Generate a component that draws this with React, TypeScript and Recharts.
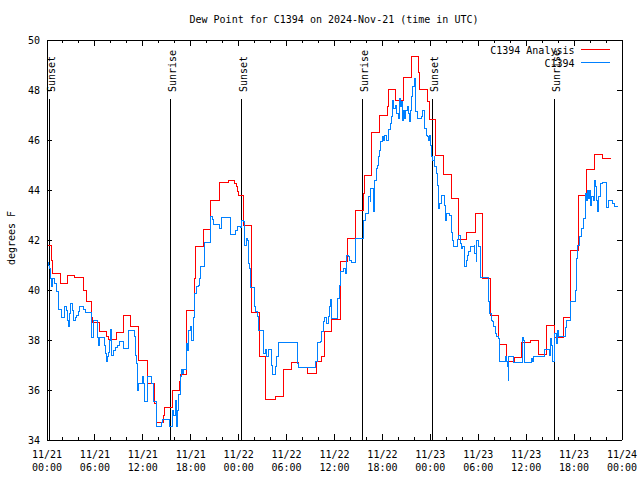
import React from 'react';
import { LineChart, Line, XAxis, YAxis, ReferenceLine, Legend, Customized } from 'recharts';

const FONT = '"DejaVu Sans Mono", "Liberation Mono", monospace';

const chartTitle = 'Dew Point for C1394 on 2024-Nov-21 (time in UTC)';
const yAxisTitle = 'degrees F';
const analysisName = 'C1394 Analysis';
const obsName = 'C1394';
const seriesOrder = [analysisName, obsName];

// hours since 11/21 00:00 UTC
const xTickHours = [0, 2, 4, 6, 8, 10, 12, 14, 16, 18, 20, 22, 24, 26, 28, 30, 32, 34, 36, 38, 40, 42, 44, 46, 48, 50, 52, 54, 56, 58, 60, 62, 64, 66, 68, 70, 72];
const xLabelHours = [0, 6, 12, 18, 24, 30, 36, 42, 48, 54, 60, 66, 72];
const xLabelDates = ['11/21', '11/21', '11/21', '11/21', '11/22', '11/22', '11/22', '11/22', '11/23', '11/23', '11/23', '11/23', '11/24'];
const xLabelTimes = ['00:00', '06:00', '12:00', '18:00', '00:00', '06:00', '12:00', '18:00', '00:00', '06:00', '12:00', '18:00', '00:00'];
const yTicks = [34, 36, 38, 40, 42, 44, 46, 48, 50];

const sunTimes = [0.29, 15.47, 24.35, 39.5, 48.25, 63.53];
const sunLabels = ['Sunset', 'Sunrise', 'Sunset', 'Sunrise', 'Sunset', 'Sunrise'];
const sunLineBottom = 34;
const sunLineTop = 47.64;

// C1394 Analysis (step values)
const analysisHours = [0, 0.6, 0.65, 1.7, 2.6, 3.5, 4.55, 4.97, 5.6, 5.7, 6.6, 7.5, 7.65, 8.7, 9.55, 10.5, 11.4, 12.56, 13.5, 13.7, 14.56, 14.7, 15.7, 16.65, 16.75, 17.5, 18.5, 18.6, 19.57, 20.5, 21.66, 22.7, 23.5, 23.7, 23.9, 24.0, 24.6, 25.6, 26.6, 27.3, 27.4, 28.55, 29.6, 30.6, 31.55, 32.6, 33.7, 34.4, 34.7, 35.65, 36.7, 37.6, 38.6, 39.6, 39.7, 40.66, 41.6, 42.6, 42.8, 43.6, 44.6, 45.6, 46.5, 46.6, 47.7, 47.85, 48.7, 49.7, 50.6, 51.5, 52.55, 53.6, 54.55, 55.5, 56.5, 56.7, 57.56, 58.5, 59.4, 60.5, 61.5, 62.5, 63.6, 64.65, 65.5, 65.6, 66.5, 66.6, 67.6, 68.6, 69.6, 70.6];
const analysisValues = [41.8, 41.2, 40.67, 40.27, 40.6, 40.5, 40.0, 39.56, 38.9, 38.7, 38.33, 38.13, 38.04, 38.3, 38.97, 38.56, 37.2, 36.27, 35.47, 34.7, 35.0, 35.3, 36.0, 36.33, 36.64, 39.2, 40.47, 41.76, 42.43, 43.57, 44.3, 44.38, 44.27, 44.13, 43.93, 43.8, 42.57, 39.1, 37.36, 36.07, 35.64, 35.73, 36.83, 37.1, 36.9, 36.67, 37.13, 37.33, 38.33, 38.83, 41.16, 42.07, 43.2, 43.87, 44.57, 46.31, 46.99, 47.33, 48.03, 47.6, 48.49, 49.36, 48.71, 48.04, 47.53, 46.83, 45.4, 44.63, 43.67, 42.03, 42.3, 43.07, 40.45, 39.0, 38.07, 37.83, 37.13, 37.31, 37.91, 38.0, 37.44, 38.57, 38.11, 38.89, 40.24, 41.57, 42.69, 43.8, 44.83, 45.43, 45.27, 45.27];

// C1394 observations
const obsHours = [0, 0.08, 0.17, 0.29, 0.5, 0.58, 0.71, 1.0, 1.21, 1.42, 1.84, 2.13, 2.25, 2.38, 2.55, 2.67, 2.8, 2.96, 3.21, 3.3, 3.51, 3.72, 3.92, 4.13, 4.55, 4.76, 5.59, 5.8, 6.3, 6.43, 6.55, 7.14, 7.35, 7.47, 7.56, 7.68, 7.81, 7.97, 8.1, 8.31, 8.52, 8.81, 9.06, 9.64, 10.19, 10.94, 11.1, 11.23, 11.31, 11.44, 11.94, 12.06, 12.19, 12.56, 13.11, 13.32, 13.65, 13.73, 14.36, 14.48, 15.32, 15.74, 15.82, 16.03, 16.24, 16.32, 16.45, 16.74, 16.86, 16.99, 17.15, 17.41, 17.57, 17.7, 17.91, 18.11, 18.32, 18.53, 18.66, 18.95, 19.08, 19.24, 19.7, 20.45, 20.53, 20.74, 20.91, 21.66, 21.87, 22.95, 23.6, 23.8, 24.17, 24.38, 24.59, 24.67, 24.79, 24.92, 25.09, 25.2, 25.4, 25.5, 25.92, 26.17, 26.34, 26.5, 27.17, 27.3, 27.5, 27.72, 28.14, 28.26, 28.6, 28.76, 28.93, 31.39, 31.55, 33.6, 33.85, 34.19, 34.39, 34.6, 34.8, 35.02, 35.23, 35.35, 35.48, 35.6, 36.35, 36.6, 36.8, 37.11, 37.32, 37.52, 37.73, 37.94, 38.15, 38.65, 39.69, 39.82, 40.24, 40.45, 40.57, 40.86, 40.95, 41.07, 41.2, 41.36, 41.49, 41.61, 41.82, 41.99, 42.11, 42.24, 42.53, 42.74, 42.95, 43.16, 43.28, 43.45, 43.58, 43.79, 44.0, 44.12, 44.29, 44.41, 44.54, 44.62, 44.75, 44.95, 45.12, 45.25, 45.37, 45.54, 45.66, 45.79, 45.96, 46.08, 46.2, 46.37, 46.91, 47.04, 47.21, 47.33, 47.46, 47.63, 47.75, 47.88, 48.04, 48.17, 48.29, 48.46, 48.58, 48.71, 48.88, 48.96, 49.04, 49.21, 49.34, 49.76, 49.92, 50.05, 50.46, 50.59, 50.76, 50.96, 51.38, 51.51, 51.72, 51.93, 52.05, 52.22, 52.34, 52.47, 52.63, 52.76, 52.97, 53.47, 53.59, 53.72, 53.8, 54.01, 54.3, 55.26, 55.47, 55.68, 55.81, 55.97, 56.18, 56.31, 56.52, 56.72, 57.35, 57.56, 57.64, 57.77, 57.85, 58.39, 59.52, 59.65, 59.73, 59.85, 60.69, 60.82, 60.98, 62.28, 62.9, 63.07, 63.19, 63.32, 63.61, 63.74, 63.9, 64.03, 64.95, 65.07, 65.49, 65.57, 66.12, 66.24, 66.33, 66.45, 66.74, 66.95, 67.16, 67.37, 67.49, 67.58, 67.66, 67.79, 67.91, 68.08, 68.2, 68.41, 68.54, 68.66, 68.79, 68.91, 69.04, 69.25, 69.37, 69.58, 70.0, 70.08, 70.37, 70.83, 71.04, 71.54];
const obsValues = [40.6, 41.1, 41.0, 40.87, 40.47, 40.13, 40.47, 40.27, 39.93, 39.23, 38.9, 39.07, 39.36, 39.2, 38.8, 38.53, 39.07, 39.47, 39.2, 38.8, 38.9, 39.0, 39.13, 39.36, 39.23, 39.1, 38.1, 38.77, 38.1, 37.8, 38.1, 37.8, 37.47, 37.13, 37.33, 37.5, 37.99, 38.43, 37.4, 37.57, 37.71, 37.8, 37.96, 37.67, 38.4, 38.13, 37.4, 37.07, 36.0, 36.27, 36.56, 36.27, 35.53, 36.56, 36.27, 35.53, 35.2, 34.56, 34.7, 34.83, 34.56, 35.2, 35.0, 35.6, 34.56, 35.2, 35.84, 36.53, 36.83, 36.67, 36.83, 37.87, 37.6, 38.4, 38.53, 37.99, 38.9, 39.87, 40.13, 40.2, 40.47, 40.96, 41.89, 42.07, 42.93, 42.83, 42.64, 42.45, 42.9, 42.24, 42.4, 42.53, 42.5, 42.8, 42.73, 42.07, 41.8, 42.07, 41.97, 41.07, 40.87, 40.09, 39.33, 39.13, 38.93, 38.4, 37.47, 37.63, 37.33, 37.63, 37.0, 36.64, 36.93, 37.33, 37.91, 37.07, 36.91, 37.13, 37.91, 37.93, 38.33, 38.73, 38.91, 38.67, 38.93, 39.33, 39.63, 38.87, 39.67, 40.2, 40.73, 40.87, 40.67, 41.4, 41.33, 41.2, 41.09, 42.07, 42.8, 43.07, 43.73, 43.53, 44.07, 43.13, 43.53, 44.4, 44.87, 45.0, 45.33, 45.6, 45.93, 46.13, 46.0, 46.2, 46.0, 46.43, 46.67, 46.93, 47.6, 47.27, 47.4, 47.07, 46.87, 47.67, 47.33, 47.53, 46.8, 47.2, 46.87, 47.2, 47.33, 47.07, 46.73, 47.2, 47.73, 48.13, 48.47, 47.67, 47.13, 46.87, 46.96, 47.2, 47.13, 46.47, 46.2, 46.13, 46.0, 46.2, 45.8, 45.33, 45.2, 45.33, 44.93, 44.67, 44.2, 43.6, 43.27, 43.47, 43.8, 43.4, 42.8, 43.07, 43.0, 42.29, 42.0, 41.73, 42.03, 42.2, 41.87, 41.67, 41.73, 41.33, 40.93, 41.2, 41.4, 41.53, 41.73, 41.8, 41.47, 41.13, 42.0, 41.73, 40.51, 39.53, 39.07, 38.8, 38.73, 38.53, 38.27, 38.13, 38.07, 37.13, 37.33, 37.13, 36.93, 36.4, 37.33, 37.11, 38.11, 38.0, 37.6, 37.11, 37.27, 37.13, 37.33, 37.63, 37.4, 38.07, 37.8, 37.13, 38.27, 37.87, 38.4, 38.13, 38.49, 38.8, 39.2, 39.53, 40.0, 40.67, 41.27, 41.8, 42.13, 42.47, 42.87, 43.2, 43.87, 43.6, 44.0, 43.67, 44.0, 43.4, 43.73, 43.6, 44.37, 44.13, 43.6, 43.13, 43.73, 43.8, 44.27, 44.29, 43.8, 43.31, 43.6, 43.47, 43.36, 43.36];

const analysisData = analysisHours.map((t, i) => ({ t, v: analysisValues[i] }));
const obsData = obsHours.map((t, i) => ({ t, v: obsValues[i] }));

const BottomTick = (props: any) => {
  const { x, y, payload } = props;
  const i = xLabelHours.indexOf(payload.value);
  const major = i >= 0;
  return (
    <g>
      <line x1={x} y1={y} x2={x} y2={y - (major ? 6 : 3)} stroke="#000" strokeWidth={1} shapeRendering="crispEdges" />
      {major && (
        <text x={x} y={y + 18} textAnchor="middle" fontFamily={FONT} fontSize={10} fill="#000">{xLabelDates[i]}</text>
      )}
      {major && (
        <text x={x} y={y + 31} textAnchor="middle" fontFamily={FONT} fontSize={10} fill="#000">{xLabelTimes[i]}</text>
      )}
    </g>
  );
};

const TopTick = (props: any) => {
  const { x, y, payload } = props;
  const major = xLabelHours.indexOf(payload.value) >= 0;
  return <line x1={x} y1={y} x2={x} y2={y + (major ? 6 : 3)} stroke="#000" strokeWidth={1} shapeRendering="crispEdges" />;
};

const LeftTick = (props: any) => {
  const { x, y, payload } = props;
  return (
    <g>
      <line x1={x} y1={y} x2={x + 5} y2={y} stroke="#000" strokeWidth={1} shapeRendering="crispEdges" />
      <text x={x - 7} y={y + 4} textAnchor="end" fontFamily={FONT} fontSize={10} fill="#000">{payload.value}</text>
    </g>
  );
};

const RightTick = (props: any) => {
  const { x, y } = props;
  return <line x1={x} y1={y} x2={x - 5} y2={y} stroke="#000" strokeWidth={1} shapeRendering="crispEdges" />;
};

const SunLabel = (props: any) => {
  const { viewBox, text } = props;
  const x = viewBox.x + 5.5;
  const y = viewBox.y - 7;
  return (
    <text x={x} y={y} transform={`rotate(-90 ${x} ${y})`} textAnchor="start" fontFamily={FONT} fontSize={10} fill="#000">{text}</text>
  );
};

const LegendBox = (props: any) => {
  const payload = [...(props.payload || [])].sort(
    (a: any, b: any) => seriesOrder.indexOf(a.value) - seriesOrder.indexOf(b.value)
  );
  return (
    <svg width={140} height={30}>
      {payload.map((e: any, i: number) => (
        <g key={i}>
          <text x={94.5} y={13.5 + 13 * i} textAnchor="end" fontFamily={FONT} fontSize={10} fill="#000">{e.value}</text>
          <line x1={101} x2={130} y1={9.5 + 13 * i} y2={9.5 + 13 * i} stroke={e.color} strokeWidth={1} shapeRendering="crispEdges" />
        </g>
      ))}
    </svg>
  );
};

const Texts = () => (
  <g>
    <text x={334} y={23} textAnchor="middle" fontFamily={FONT} fontSize={10} fill="#000">{chartTitle}</text>
    <text x={15} y={238} transform="rotate(-90 15 238)" textAnchor="middle" fontFamily={FONT} fontSize={10} fill="#000">{yAxisTitle}</text>
  </g>
);

const axisLineStyle = { stroke: '#000', strokeWidth: 1, shapeRendering: 'crispEdges' };

export default function App() {
  return (
    <div style={{ position: 'absolute', left: 0, top: 0, width: 640, height: 480, background: '#fff' }}>
      <LineChart width={640} height={480} margin={{ top: 39, right: 17, bottom: 39, left: 46 }}>
        <XAxis dataKey="t" type="number" domain={[0, 72]} ticks={xTickHours} interval={0} height={1}
          tickSize={0} tickMargin={0} tickLine={false} tick={<BottomTick />} allowDataOverflow
          axisLine={axisLineStyle} />
        <XAxis xAxisId="top" orientation="top" dataKey="t" type="number" domain={[0, 72]} ticks={xTickHours} interval={0} height={1}
          tickSize={0} tickMargin={0} tickLine={false} tick={<TopTick />} allowDataOverflow
          axisLine={axisLineStyle} />
        <YAxis type="number" domain={[34, 50]} ticks={yTicks} interval={0} width={1}
          tickSize={0} tickMargin={0} tickLine={false} tick={<LeftTick />} allowDataOverflow
          axisLine={axisLineStyle} />
        <YAxis yAxisId="right" orientation="right" type="number" domain={[34, 50]} ticks={yTicks} interval={0} width={1}
          tickSize={0} tickMargin={0} tickLine={false} tick={<RightTick />} allowDataOverflow
          axisLine={axisLineStyle} />
        {sunTimes.map((t, i) => (
          <ReferenceLine key={i} segment={[{ x: t, y: sunLineBottom }, { x: t, y: sunLineTop }]}
            stroke="#000" strokeWidth={1} shapeRendering="crispEdges" label={<SunLabel text={sunLabels[i]} />} />
        ))}
        <Line data={analysisData} dataKey="v" name={analysisName} type="stepAfter" stroke="#ff0000" strokeWidth={1}
          shapeRendering="crispEdges" dot={false} activeDot={false} isAnimationActive={false} />
        <Line data={obsData} dataKey="v" name={obsName} type="stepAfter" stroke="#0080ff" strokeWidth={1}
          shapeRendering="crispEdges" dot={false} activeDot={false} isAnimationActive={false} />
        <Legend layout="vertical" verticalAlign="middle" align="center"
          wrapperStyle={{ position: 'absolute', left: 480, top: 40, width: 140, height: 30 }}
          content={<LegendBox />} />
        <Customized component={<Texts />} />
      </LineChart>
    </div>
  );
}
